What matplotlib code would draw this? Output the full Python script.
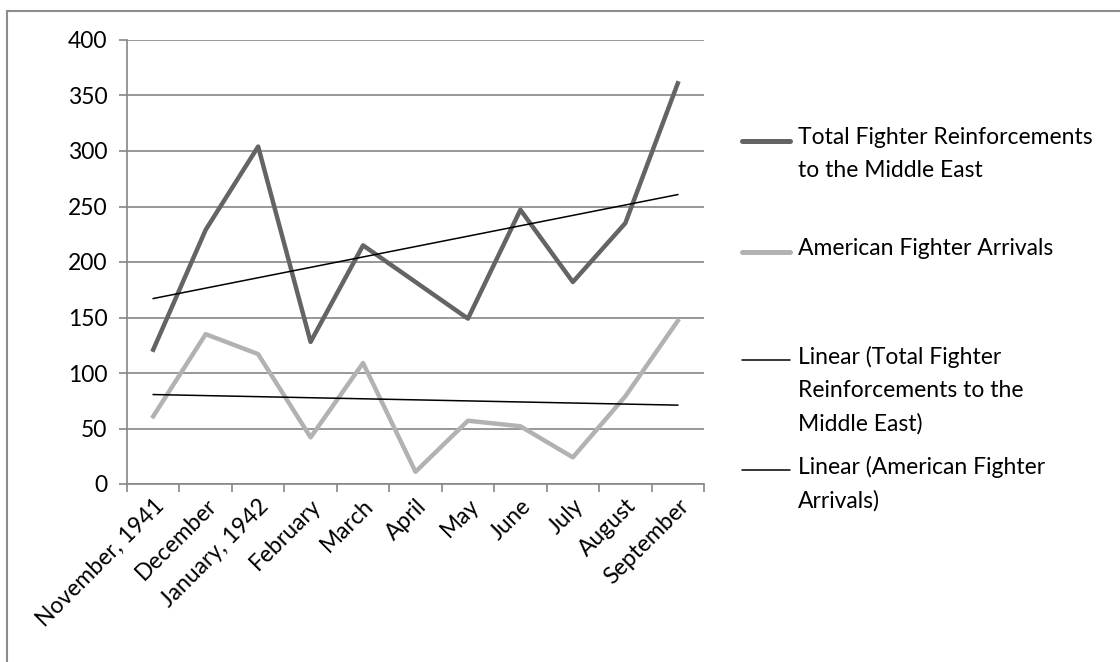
import matplotlib
matplotlib.use('Agg')
import matplotlib.pyplot as plt
from matplotlib.lines import Line2D
from matplotlib.patches import Rectangle
import numpy as np

plt.rcParams['font.family'] = ['Lato', 'DejaVu Sans']

months = ['November, 1941', 'December', 'January, 1942', 'February', 'March', 'April',
          'May', 'June', 'July', 'August', 'September']
total = [121, 229, 304, 128, 215, 182, 149, 247, 182, 235, 361]
american = [61, 135, 117, 42, 109, 11, 57, 52, 24, 79, 147]

c_total = '#646464'
c_amer = '#b2b2b2'
c_grid = '#868686'
fs = 16.5

fig = plt.figure(figsize=(11.2, 6.62), dpi=100)
# rahmen um das ganze diagramm
fig.patches.append(Rectangle((7/1120, -0.1), 1.2, 1.1 - 11/662, transform=fig.transFigure,
                             fill=False, edgecolor='#8c8c8c', linewidth=1.5))

ax = fig.add_axes([127/1120, 1 - 484/662, (704-127)/1120, (484-40)/662])
x = np.arange(len(months))

ax.plot(x, total, color=c_total, linewidth=3.2, solid_joinstyle='round', zorder=3)
ax.plot(x, american, color=c_amer, linewidth=3.2, solid_joinstyle='round', zorder=3)

# lineare trendlinien
for s in (total, american):
    k, d = np.polyfit(x, s, 1)
    ax.plot(x, k * x + d, color='black', linewidth=1.1, zorder=4)

ax.set_xlim(-0.5, len(months) - 0.5)
ax.set_ylim(0, 400)
ax.set_yticks(range(0, 401, 50))
ax.yaxis.grid(True, color=c_grid, linewidth=1.2)
ax.set_axisbelow(True)

ax.set_xticks(x)
ax.set_xticklabels(months, rotation=45, ha='right', va='top', rotation_mode='anchor', fontsize=fs)
ax.set_xticks(np.arange(-0.5, len(months)), minor=True)
ax.tick_params(axis='x', which='major', length=0, pad=8)
ax.tick_params(axis='x', which='minor', length=6, color=c_grid, width=1.2)
ax.tick_params(axis='y', length=6, color=c_grid, width=1.2, labelsize=fs, pad=8)

for sp in ('top', 'right'):
    ax.spines[sp].set_visible(False)
for sp in ('left', 'bottom'):
    ax.spines[sp].set_color(c_grid)
    ax.spines[sp].set_linewidth(1.2)

# legende von hand
entries = [
    (141, c_total, 3.6, 'Total Fighter Reinforcements\nto the Middle East'),
    (252, c_amer, 3.6, 'American Fighter Arrivals'),
    (360, 'black', 1.1, 'Linear (Total Fighter\nReinforcements to the\nMiddle East)'),
    (470, 'black', 1.1, 'Linear (American Fighter\nArrivals)'),
]
for yy, col, lw, lab in entries:
    fy = 1 - yy / 662
    fig.lines.append(Line2D([742/1120, 790/1120], [fy, fy], transform=fig.transFigure,
                            color=col, linewidth=lw, solid_capstyle='round'))
    fig.text(798/1120, fy + 14/662, lab, fontsize=fs, va='top', ha='left', linespacing=1.68)

fig.savefig('out.png', dpi=100)
